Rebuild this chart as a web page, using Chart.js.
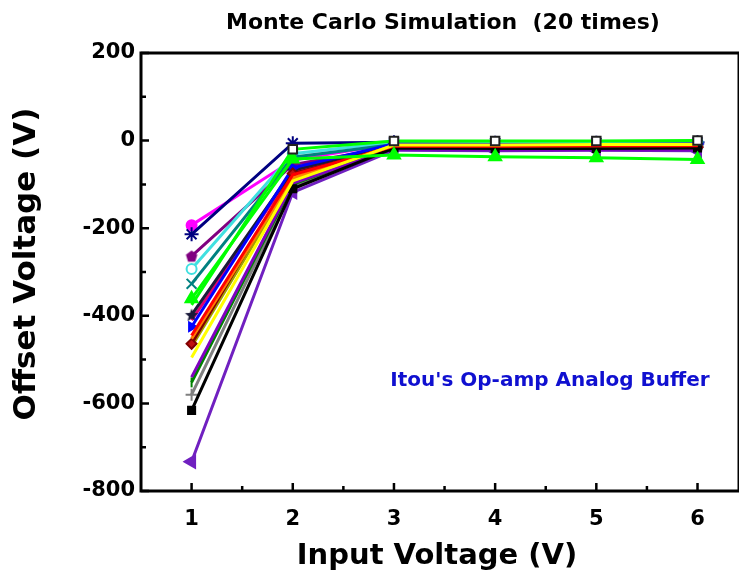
<!DOCTYPE html>
<html>
<head>
<meta charset="utf-8">
<title>Monte Carlo Simulation (20 times)</title>
<script src="https://cdn.jsdelivr.net/npm/chart.js@4.4.1/dist/chart.umd.min.js"></script>
<style>
  html, body { margin: 0; padding: 0; background: #fff; overflow: hidden; }
  canvas { display: block; }
</style>
</head>
<body>
<canvas id="chart" width="739" height="584"></canvas>
<script>
// input voltage points (V)
const inputVoltage = [1, 2, 3, 4, 5, 6];
const xTicks = [1, 2, 3, 4, 5, 6];
const xMinorTicks = [1.5, 2.5, 3.5, 4.5, 5.5];
const yTicks = [-800, -600, -400, -200, 0, 200];
const yMinorTicks = [-700, -500, -300, -100, 100];

// offset voltage (V) for each of the 20 runs
const run01 = [-375, -20, -1, -1, -1, 0];
const run02 = [-193, -45, -6, -6, -5, -5];
const run03 = [-214, -6, -4, -5, -5, -4];
const run04 = [-264, -55, -14, -16, -16, -16];
const run05 = [-293, -30, -4, -4, -3, -3];
const run06 = [-327, -38, -9, -10, -10, -9];
const run07 = [-361, -42, -33, -37, -39, -43];
const run08 = [-398, -68, -10, -12, -12, -11];
const run09 = [-425, -62, -8, -9, -9, -8];
const run10 = [-445, -78, -13, -13, -12, -12];
const run11 = [-452, -85, -11, -12, -12, -11];
const run12 = [-464, -75, -15, -16, -16, -15];
const run13 = [-495, -92, -10, -10, -9, -9];
const run14 = [-540, -97, -19, -21, -21, -21];
const run15 = [-552, -100, -15, -16, -15, -14];
const run16 = [-580, -104, -12, -13, -13, -12];
const run17 = [-616, -110, -17, -18, -18, -17];
const run18 = [-733, -118, -22, -23, -22, -23];
const run19 = [-410, -72, -12, -14, -14, -13];
const run20 = [-470, -88, -8, -9, -9, -8];

const FONT = "'DejaVu Sans', sans-serif";

function marker(size, draw) {
  const c = document.createElement('canvas');
  c.width = size;
  c.height = size;
  draw(c.getContext('2d'), size / 2);
  return c;
}

const pentagon = marker(14, (g, r) => {
  g.beginPath();
  for (let i = 0; i < 5; i++) {
    const a = -Math.PI / 2 + i * 2 * Math.PI / 5;
    g.lineTo(r + 6 * Math.cos(a), r + 6.3 * Math.sin(a) + 0.5);
  }
  g.closePath();
  g.fillStyle = '#800080';
  g.fill();
});

const solidStar = marker(16, (g, r) => {
  g.beginPath();
  for (let i = 0; i < 10; i++) {
    const a = -Math.PI / 2 + i * Math.PI / 5;
    const rr = i % 2 ? 3 : 7;
    g.lineTo(r + rr * Math.cos(a), r + rr * Math.sin(a) + 0.5);
  }
  g.closePath();
  g.fillStyle = '#1a1a3a';
  g.fill();
});

// first entry is painted on top
const runs = [
  { data: run01, color: '#00ff00', style: 'rect', fill: '#ffffff', border: '#202020', radius: [0, 6, 6, 6, 6, 6] },
  { data: run07, color: '#00ff00', style: 'triangle', radius: 7 },
  { data: run13, color: '#ffff00', style: 'circle', radius: 0 },
  { data: run10, color: '#ff0000', style: 'circle', radius: 0 },
  { data: run11, color: '#ff8000', style: 'circle', radius: 0 },
  { data: run17, color: '#000000', style: 'rect' },
  { data: run14, color: '#8000c0', style: 'circle', radius: 0 },
  { data: run12, color: '#800000', style: 'rectRot', fill: '#c01010' },
  { data: run15, color: '#008000', style: 'line', rot: 90 },
  { data: run16, color: '#808080', style: 'cross', radius: 6 },
  { data: run18, color: '#7020c0', style: 'triangle', rot: -90, radius: 7 },
  { data: run09, color: '#0000ff', style: 'triangle', rot: 90 },
  { data: run08, color: '#1a1a3a', style: solidStar },
  { data: run19, color: '#e00070', style: 'circle', radius: 0 },
  { data: run20, color: '#a0a000', style: 'circle', radius: 0 },
  { data: run06, color: '#008080', style: 'crossRot', radius: 7 },
  { data: run05, color: '#40e0e0', style: 'circle', fill: '#ffffff' },
  { data: run04, color: '#800080', style: pentagon },
  { data: run03, color: '#000080', style: 'star', radius: 7 },
  { data: run02, color: '#ff00ff', style: 'circle' },
];

const axesFrame = {
  id: 'axesFrame',
  afterDraw(chart) {
    const { ctx, chartArea: a, scales: { x, y } } = chart;
    ctx.save();
    ctx.strokeStyle = '#000';
    ctx.lineWidth = 3;
    ctx.strokeRect(a.left, a.top, a.right - a.left, a.bottom - a.top);
    ctx.lineWidth = 2.5;
    ctx.beginPath();
    xTicks.forEach(v => { const px = x.getPixelForValue(v); ctx.moveTo(px, a.bottom); ctx.lineTo(px, a.bottom - 8); });
    xMinorTicks.forEach(v => { const px = x.getPixelForValue(v); ctx.moveTo(px, a.bottom); ctx.lineTo(px, a.bottom - 5); });
    yTicks.forEach(v => { const py = y.getPixelForValue(v); ctx.moveTo(a.left, py); ctx.lineTo(a.left + 8, py); });
    yMinorTicks.forEach(v => { const py = y.getPixelForValue(v); ctx.moveTo(a.left, py); ctx.lineTo(a.left + 5, py); });
    ctx.stroke();

    ctx.fillStyle = '#000';
    ctx.textAlign = 'center';
    ctx.textBaseline = 'middle';
    ctx.font = 'bold 22px ' + FONT;
    ctx.fillText('Monte Carlo Simulation  (20 times)', 443, 23);
    ctx.font = 'bold 29px ' + FONT;
    ctx.fillText('Input Voltage (V)', 437, 556);
    ctx.save();
    ctx.translate(27, 264);
    ctx.rotate(-Math.PI / 2);
    ctx.font = 'bold 31px ' + FONT;
    ctx.fillText('Offset Voltage (V)', 0, 0);
    ctx.restore();
    ctx.fillStyle = '#1010d0';
    ctx.font = 'bold 20px ' + FONT;
    ctx.fillText("Itou's Op-amp Analog Buffer", 550, 381);
    ctx.restore();
  }
};

const ctx = document.getElementById('chart').getContext('2d');
new Chart(ctx, {
  type: 'line',
  data: {
    datasets: runs.map(r => ({
      data: r.data.map((v, i) => ({ x: inputVoltage[i], y: v })),
      borderColor: r.color,
      borderWidth: 3,
      tension: 0,
      pointStyle: r.style,
      pointRadius: r.radius ?? 5,
      pointRotation: r.rot ?? 0,
      pointBackgroundColor: r.fill ?? r.color,
      pointBorderColor: r.border ?? r.color,
      pointBorderWidth: 2,
    })),
  },
  options: {
    responsive: false,
    animation: false,
    devicePixelRatio: 1,
    layout: { autoPadding: false, padding: { top: 53, right: 0, left: 0, bottom: 0 } },
    plugins: {
      legend: { display: false },
      tooltip: { enabled: false },
    },
    scales: {
      x: {
        type: 'linear',
        min: 0.5,
        max: 6.41,
        grid: { display: false, drawTicks: false },
        border: { display: false },
        afterBuildTicks: s => { s.ticks = xTicks.map(v => ({ value: v })); },
        afterFit: s => { s.height = 93; s.paddingRight = 0; },
        ticks: { color: '#000', padding: 16, font: { family: FONT, size: 21, weight: 'bold' } },
      },
      y: {
        min: -800,
        max: 200,
        grid: { display: false, drawTicks: false },
        border: { display: false },
        afterBuildTicks: s => { s.ticks = yTicks.map(v => ({ value: v })); },
        afterFit: s => { s.width = 141; },
        ticks: { color: '#000', padding: 6, font: { family: FONT, size: 21, weight: 'bold' } },
      },
    },
  },
  plugins: [axesFrame],
});
</script>
</body>
</html>
